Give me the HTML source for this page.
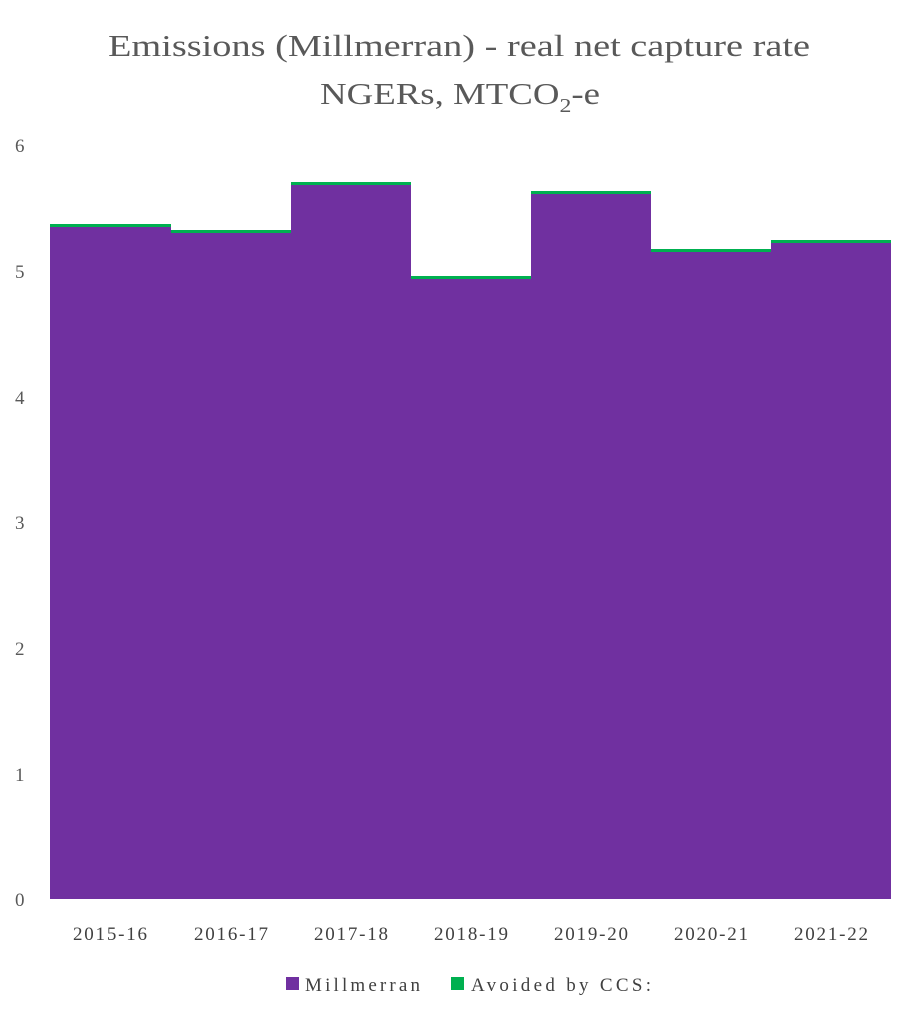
<!DOCTYPE html>
<html><head><style>
body{margin:0;background:#fff;width:919px;height:1023px;overflow:hidden;font-family:"Liberation Serif",serif;}
</style></head><body>
<svg width="919" height="1023" xmlns="http://www.w3.org/2000/svg" font-family="Liberation Serif, serif">
<text x="108" y="56" font-size="31" fill="#595959" textLength="702" lengthAdjust="spacingAndGlyphs">Emissions (Millmerran) - real net capture rate</text>
<text x="320" y="104" font-size="31" fill="#595959" textLength="280" lengthAdjust="spacingAndGlyphs">NGERs, MTCO<tspan font-size="20" dy="8">2</tspan><tspan dy="-8">-e</tspan></text>
<g font-size="19" fill="#595959">
<text x="15" y="152">6</text><text x="15" y="278">5</text><text x="15" y="404">4</text>
<text x="15" y="529">3</text><text x="15" y="655">2</text><text x="15" y="781">1</text><text x="15" y="906">0</text>
</g>
<g fill="#00b050">
<rect x="50" y="224" width="121" height="4"/>
<rect x="171" y="230" width="120" height="4"/>
<rect x="291" y="182" width="120" height="4"/>
<rect x="411" y="276" width="120" height="4"/>
<rect x="531" y="191" width="120" height="4"/>
<rect x="651" y="249" width="120" height="4"/>
<rect x="771" y="240" width="120" height="4"/>
</g>
<g fill="#7030a0">
<rect x="50" y="227" width="121" height="672"/>
<rect x="171" y="233" width="120" height="666"/>
<rect x="291" y="185" width="120" height="714"/>
<rect x="411" y="279" width="120" height="620"/>
<rect x="531" y="194" width="120" height="705"/>
<rect x="651" y="252" width="120" height="647"/>
<rect x="771" y="243" width="120" height="656"/>
</g>
<g font-size="19" fill="#404040" text-anchor="middle">
<text x="110" y="940" textLength="74">2015-16</text><text x="231" y="940" textLength="74">2016-17</text><text x="351" y="940" textLength="74">2017-18</text>
<text x="471" y="940" textLength="74">2018-19</text><text x="591" y="940" textLength="74">2019-20</text><text x="711" y="940" textLength="74">2020-21</text><text x="831" y="940" textLength="74">2021-22</text>
</g>
<rect x="286" y="977" width="13" height="13" fill="#7030a0"/>
<text x="305" y="991" font-size="19" fill="#404040" textLength="115">Millmerran</text>
<rect x="451" y="977" width="13" height="13" fill="#00b050"/>
<text x="471" y="991" font-size="19" fill="#404040" textLength="180">Avoided by CCS:</text>
</svg>
</body></html>
